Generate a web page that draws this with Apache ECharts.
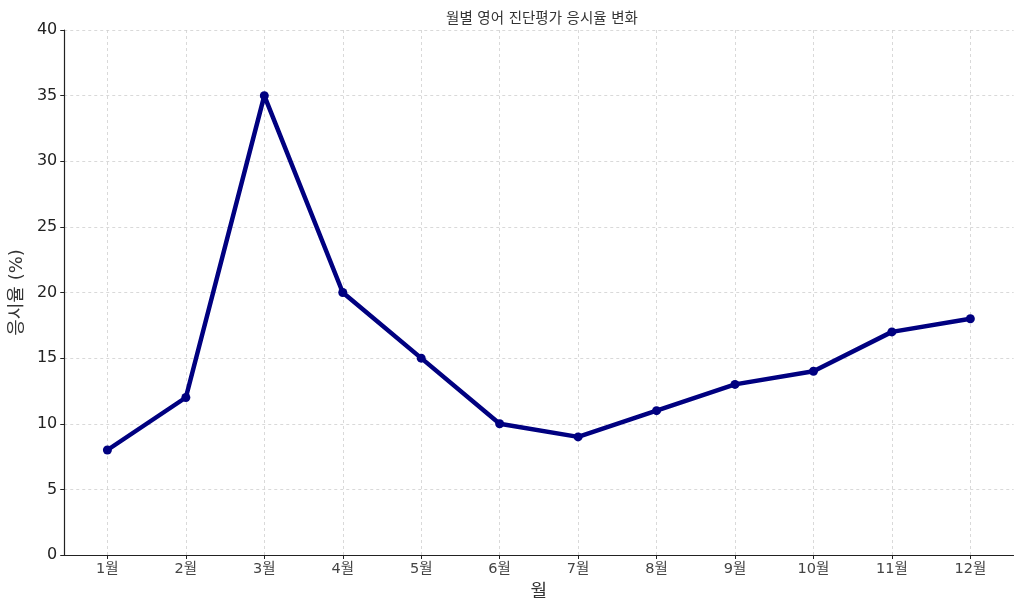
<!DOCTYPE html>
<html>
<head>
<meta charset="utf-8">
<script src="https://cdn.jsdelivr.net/npm/echarts@6/dist/echarts.min.js"></script>
<style>
  html, body { margin: 0; padding: 0; background: #fff; }
  #chart { width: 1024px; height: 610px; }
</style>
</head>
<body>
<div id="chart"></div>
<script>
// 월별 응시율 데이터
var months = ['1월', '2월', '3월', '4월', '5월', '6월', '7월', '8월', '9월', '10월', '11월', '12월'];
var rates = [8, 12, 35, 20, 15, 10, 9, 11, 13, 14, 17, 18];
var yTicks = [0, 5, 10, 15, 20, 25, 30, 35, 40];

var font = "'DejaVu Sans', 'Noto Sans CJK KR', sans-serif";
var monthIdx = months.map(function (m, i) { return i; });
var points = rates.map(function (v, i) { return [i, v]; });

var myChart = echarts.init(document.getElementById('chart'));

var option = {
    animation: false,
    title: {
        text: '월별 영어 진단평가 응시율 변화',
        left: 537,
        top: 7,
        textAlign: 'center',
        textStyle: { fontFamily: font, fontSize: 14.5, fontWeight: 'normal', color: '#333' }
    },
    grid: { left: 61.5, right: 10.5, top: 30, bottom: 55 },
    xAxis: {
        type: 'value',
        min: -0.55,
        max: 11.55,
        name: '월',
        nameLocation: 'middle',
        nameGap: 28,
        nameTextStyle: { fontFamily: font, fontSize: 18, color: '#333' },
        axisLine: { show: true, onZero: false, lineStyle: { color: '#222', width: 1.2 } },
        axisTick: { show: true, length: 4, customValues: monthIdx, lineStyle: { color: '#222' } },
        axisLabel: {
            customValues: monthIdx,
            fontFamily: font,
            fontSize: 14.5,
            color: '#444',
            margin: 7,
            formatter: function (v) { return months[Math.round(v)]; }
        },
        splitLine: { show: true, lineStyle: { color: '#d0d0d0', type: [3, 3], width: 0.8 } }
    },
    yAxis: {
        type: 'value',
        min: yTicks[0],
        max: yTicks[yTicks.length - 1],
        interval: 5,
        name: '응시율 (%)',
        nameLocation: 'middle',
        nameGap: 36,
        nameTextStyle: { fontFamily: font, fontSize: 18, color: '#333' },
        axisLine: { show: true, onZero: false, lineStyle: { color: '#222', width: 1.2 } },
        axisTick: { show: true, length: 4, lineStyle: { color: '#222' } },
        axisLabel: { fontFamily: font, fontSize: 16, color: '#222', margin: 7 },
        splitLine: { show: true, lineStyle: { color: '#d0d0d0', type: [3, 3], width: 0.8 } }
    },
    series: [{
        type: 'line',
        data: points,
        symbol: 'circle',
        symbolSize: 9,
        lineStyle: { color: '#000080', width: 4.5 },
        itemStyle: { color: '#000080' }
    }]
};

myChart.setOption(option);
</script>
</body>
</html>
